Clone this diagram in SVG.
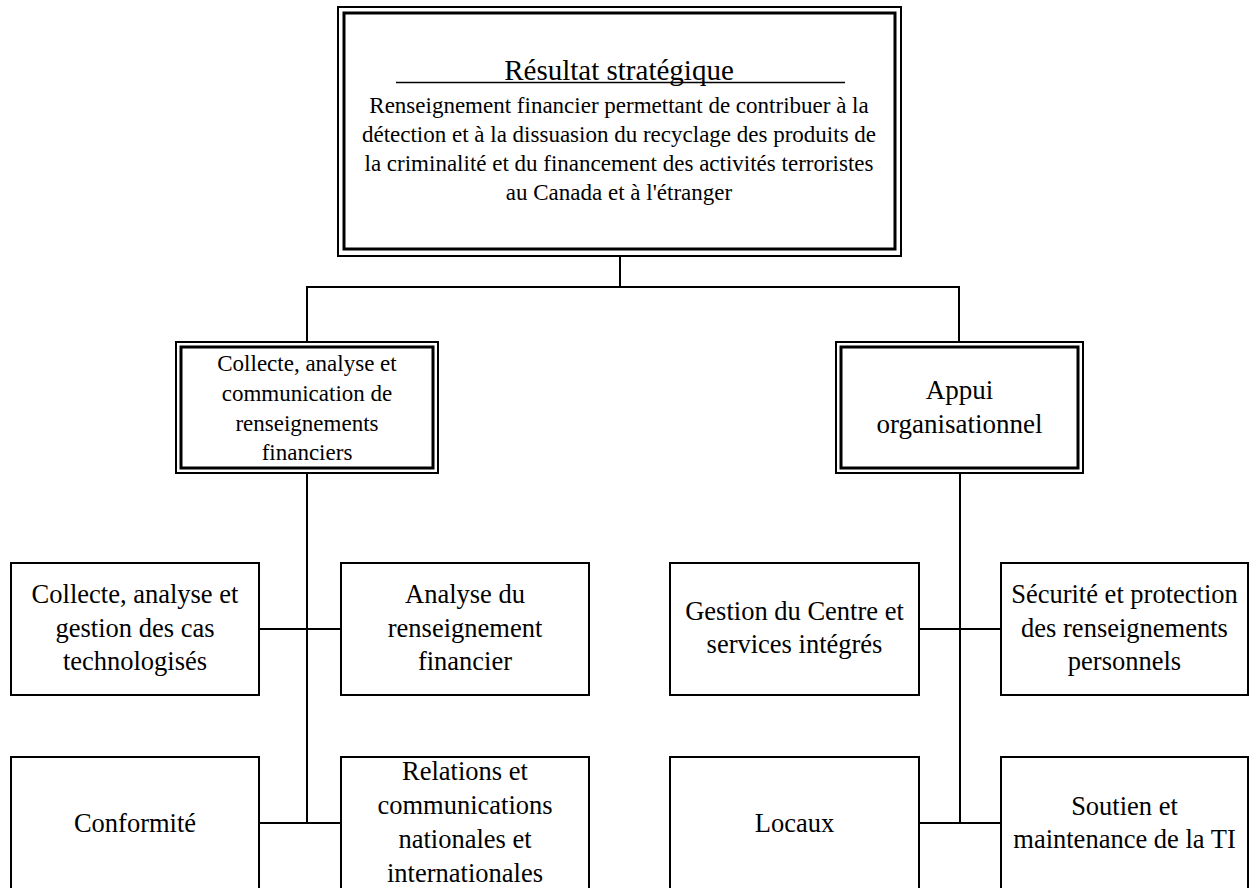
<svg xmlns="http://www.w3.org/2000/svg" width="1250" height="888" viewBox="0 0 1250 888">
<style>
text{font-family:'Liberation Serif','DejaVu Serif',serif;fill:#000;text-anchor:middle}
.box{fill:#fff;stroke:#000;stroke-width:2}
.outer{fill:#fff;stroke:#000;stroke-width:2}
.inner{fill:none;stroke:#000;stroke-width:3}
.conn{stroke:#000;stroke-width:2;fill:none}
.t23{font-size:23px}
.t26{font-size:26.5px}
.t27{font-size:27px}
.t29{font-size:29px}
</style>
<rect width="1250" height="888" fill="#fff"/>
<g id="connectors">
<path class="conn" d="M620,256 V287 M306,287 H960 M307,287 V342 M959,287 V342"/>
<path class="conn" d="M307,472 V823 M259,629 H341 M259,823 H341"/>
<path class="conn" d="M960,472 V823 M919,629 H1001 M919,823 H1001"/>
</g>
<g id="n-strategic">
<rect class="outer" x="338" y="7" width="563" height="249"/>
<rect class="inner" x="344" y="13" width="551" height="236"/>
<text class="t29" x="619" y="80">Résultat stratégique</text>
<line x1="396" y1="82.5" x2="845" y2="82.5" stroke="#000" stroke-width="1.5"/>
<text class="t23" x="619" y="113">Renseignement financier permettant de contribuer à la</text>
<text class="t23" x="619" y="142">détection et à la dissuasion du recyclage des produits de</text>
<text class="t23" x="619" y="171">la criminalité et du financement des activités terroristes</text>
<text class="t23" x="619" y="200">au Canada et à l'étranger</text>
</g>
<g id="n-collecte-program">
<rect class="outer" x="176" y="342" width="262" height="131"/>
<rect class="inner" x="181" y="347" width="252" height="121"/>
<text class="t23" x="307" y="371">Collecte, analyse et</text>
<text class="t23" x="307" y="401">communication de</text>
<text class="t23" x="307" y="431">renseignements</text>
<text class="t23" x="307" y="460">financiers</text>
</g>
<g id="n-appui">
<rect class="outer" x="836" y="342" width="247" height="131"/>
<rect class="inner" x="841" y="347" width="237" height="121"/>
<text class="t27" x="959.5" y="399">Appui</text>
<text class="t27" x="959.5" y="433">organisationnel</text>
</g>
<g id="n-collecte-gestion">
<rect class="box" x="11" y="563" width="248" height="132"/>
<text class="t26" x="135" y="603">Collecte, analyse et</text>
<text class="t26" x="135" y="637">gestion des cas</text>
<text class="t26" x="135" y="670">technologisés</text>
</g>
<g id="n-analyse">
<rect class="box" x="341" y="563" width="248" height="132"/>
<text class="t26" x="465" y="603">Analyse du</text>
<text class="t26" x="465" y="637">renseignement</text>
<text class="t26" x="465" y="670">financier</text>
</g>
<g id="n-conformite">
<rect class="box" x="11" y="757" width="248" height="140"/>
<text class="t26" x="135" y="832">Conformité</text>
</g>
<g id="n-relations">
<rect class="box" x="341" y="757" width="248" height="140"/>
<text class="t26" x="465" y="780">Relations et</text>
<text class="t26" x="465" y="814">communications</text>
<text class="t26" x="465" y="848">nationales et</text>
<text class="t26" x="465" y="882">internationales</text>
</g>
<g id="n-gestion-centre">
<rect class="box" x="670" y="563" width="249" height="132"/>
<text class="t26" x="794.5" y="620">Gestion du Centre et</text>
<text class="t26" x="794.5" y="653">services intégrés</text>
</g>
<g id="n-securite">
<rect class="box" x="1001" y="563" width="247" height="132"/>
<text class="t26" x="1124.5" y="603">Sécurité et protection</text>
<text class="t26" x="1124.5" y="637">des renseignements</text>
<text class="t26" x="1124.5" y="670">personnels</text>
</g>
<g id="n-locaux">
<rect class="box" x="670" y="757" width="249" height="140"/>
<text class="t26" x="794.5" y="832">Locaux</text>
</g>
<g id="n-soutien">
<rect class="box" x="1001" y="757" width="247" height="140"/>
<text class="t26" x="1124.5" y="815">Soutien et</text>
<text class="t26" x="1124.5" y="848">maintenance de la TI</text>
</g>
</svg>
